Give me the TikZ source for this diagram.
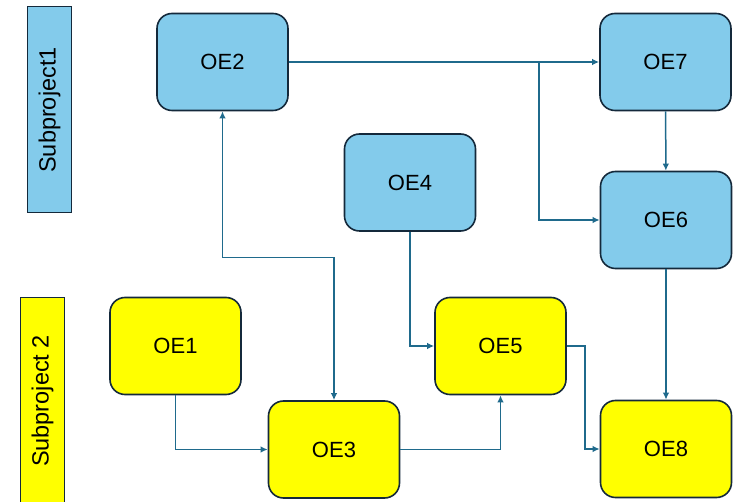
\documentclass[tikz,border=0pt]{standalone}
\usepackage{fontspec}
\setmainfont{Liberation Sans}
\usetikzlibrary{positioning,calc,arrows.meta}

\definecolor{spblue}{HTML}{83CBEB}
\definecolor{spyellow}{HTML}{FFFF00}
\definecolor{boxline}{HTML}{14293B}
\definecolor{flowline}{HTML}{1F6A8C}

\tikzset{
    oebox/.style={draw=boxline, line width=1.6pt, rounded corners=15pt,
        minimum width=131pt, minimum height=97pt, inner sep=0pt,
        font=\fontsize{22}{26}\selectfont},
    blueoe/.style={oebox, fill=spblue},
    yellowoe/.style={oebox, fill=spyellow},
    splabel/.style={draw=boxline, line width=1pt, rotate=90, inner sep=0pt,
        minimum width=206pt, minimum height=44pt,
        font=\fontsize{23.5}{28}\selectfont},
    flow/.style={draw=flowline, line width=1.5pt, -{Latex[length=7pt,width=6.5pt]}}
}

\begin{document}
\begin{tikzpicture}[x=1pt, y=-1pt]
    \useasboundingbox (0,0) rectangle (740,502);

    % Subproject labels
    \node [splabel, fill=spblue] (sub1) at (49.5,110) {Subproject1};
    \node [splabel, fill=spyellow] (sub2) at (42.5,401) {Subproject 2};

    % Subproject 1 outcomes
    \node [blueoe] (OE2) at (222.5,62) {OE2};
    \node [blueoe] (OE7) at (665.5,62) {OE7};
    \node [blueoe] (OE4) at (410,182.5) {OE4};
    \node [blueoe] (OE6) at (666,220) {OE6};

    % Subproject 2 outcomes
    \node [yellowoe] (OE1) at (175.5,346) {OE1};
    \node [yellowoe] (OE5) at (500.5,346) {OE5};
    \node [yellowoe] (OE3) at (334,449.5) {OE3};
    \node [yellowoe] (OE8) at (666,449) {OE8};

    % Links
    \draw [flow] (OE2.east) -- (OE7.west);
    \draw [flow] (OE2.east) -- ++(250,0) |- (OE6.west);
    \draw [flow] (OE7) -- (OE6);
    \draw [flow, {Latex[length=7pt,width=6.5pt]}-{Latex[length=7pt,width=6.5pt]}]
        (OE2.south) -- ++(0,146) -| (OE3.north);
    \draw [flow] (OE4.south) |- (OE5.west);
    \draw [flow] (OE1.south) |- (OE3.west);
    \draw [flow] (OE3.east) -| (OE5.south);
    \draw [flow] (OE5.east) -- ++(18,0) |- (OE8.west);
    \draw [flow] (OE6) -- (OE8);
\end{tikzpicture}
\end{document}
